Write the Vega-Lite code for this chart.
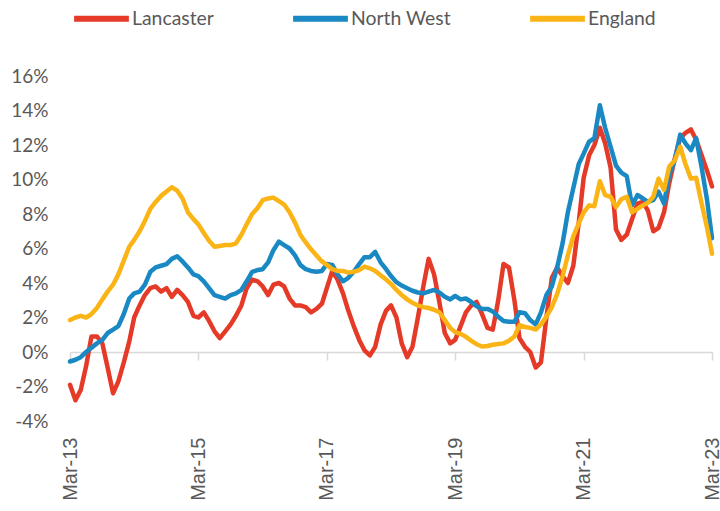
{
  "$schema": "https://vega.github.io/schema/vega-lite/v6.json",
  "width": 642,
  "height": 345,
  "autosize": {"type": "none"},
  "padding": {"left": 70, "top": 76, "right": 8, "bottom": 90},
  "background": "white",
  "config": {"view": {"stroke": null}},
  "data": {"values": [
    {"d":"2013-03-01","Lancaster":-1.9,"North West":-0.55,"England":1.85},
    {"d":"2013-04-01","Lancaster":-2.8,"North West":-0.45,"England":2.0},
    {"d":"2013-05-01","Lancaster":-2.2,"North West":-0.3,"England":2.1},
    {"d":"2013-06-01","Lancaster":-0.8,"North West":0.0,"England":2.0},
    {"d":"2013-07-01","Lancaster":0.9,"North West":0.25,"England":2.2},
    {"d":"2013-08-01","Lancaster":0.9,"North West":0.5,"England":2.55},
    {"d":"2013-09-01","Lancaster":0.5,"North West":0.7,"England":3.05},
    {"d":"2013-10-01","Lancaster":-0.9,"North West":1.1,"England":3.5},
    {"d":"2013-11-01","Lancaster":-2.4,"North West":1.3,"England":3.9},
    {"d":"2013-12-01","Lancaster":-1.7,"North West":1.5,"England":4.5},
    {"d":"2014-01-01","Lancaster":-0.6,"North West":2.2,"England":5.3},
    {"d":"2014-02-01","Lancaster":0.6,"North West":3.1,"England":6.1},
    {"d":"2014-03-01","Lancaster":2.0,"North West":3.4,"England":6.5},
    {"d":"2014-04-01","Lancaster":2.7,"North West":3.5,"England":7.0},
    {"d":"2014-05-01","Lancaster":3.3,"North West":3.9,"England":7.6},
    {"d":"2014-06-01","Lancaster":3.7,"North West":4.65,"England":8.3},
    {"d":"2014-07-01","Lancaster":3.8,"North West":4.9,"England":8.7},
    {"d":"2014-08-01","Lancaster":3.5,"North West":5.0,"England":9.05},
    {"d":"2014-09-01","Lancaster":3.7,"North West":5.1,"England":9.3},
    {"d":"2014-10-01","Lancaster":3.2,"North West":5.4,"England":9.55},
    {"d":"2014-11-01","Lancaster":3.6,"North West":5.55,"England":9.35},
    {"d":"2014-12-01","Lancaster":3.3,"North West":5.25,"England":8.9},
    {"d":"2015-01-01","Lancaster":2.9,"North West":4.9,"England":8.1},
    {"d":"2015-02-01","Lancaster":2.1,"North West":4.5,"England":7.7},
    {"d":"2015-03-01","Lancaster":2.0,"North West":4.4,"England":7.4},
    {"d":"2015-04-01","Lancaster":2.3,"North West":4.1,"England":6.9},
    {"d":"2015-05-01","Lancaster":1.8,"North West":3.7,"England":6.45},
    {"d":"2015-06-01","Lancaster":1.2,"North West":3.3,"England":6.1},
    {"d":"2015-07-01","Lancaster":0.8,"North West":3.2,"England":6.15},
    {"d":"2015-08-01","Lancaster":1.2,"North West":3.1,"England":6.2},
    {"d":"2015-09-01","Lancaster":1.6,"North West":3.3,"England":6.2},
    {"d":"2015-10-01","Lancaster":2.1,"North West":3.4,"England":6.3},
    {"d":"2015-11-01","Lancaster":2.7,"North West":3.6,"England":6.8},
    {"d":"2015-12-01","Lancaster":3.7,"North West":4.1,"England":7.4},
    {"d":"2016-01-01","Lancaster":4.2,"North West":4.65,"England":8.0},
    {"d":"2016-02-01","Lancaster":4.1,"North West":4.75,"England":8.35},
    {"d":"2016-03-01","Lancaster":3.8,"North West":4.8,"England":8.8},
    {"d":"2016-04-01","Lancaster":3.3,"North West":5.2,"England":8.9},
    {"d":"2016-05-01","Lancaster":3.9,"North West":5.9,"England":8.95},
    {"d":"2016-06-01","Lancaster":4.0,"North West":6.4,"England":8.75},
    {"d":"2016-07-01","Lancaster":3.8,"North West":6.2,"England":8.55},
    {"d":"2016-08-01","Lancaster":3.1,"North West":6.0,"England":8.1},
    {"d":"2016-09-01","Lancaster":2.7,"North West":5.6,"England":7.5},
    {"d":"2016-10-01","Lancaster":2.7,"North West":5.05,"England":6.8},
    {"d":"2016-11-01","Lancaster":2.6,"North West":4.8,"England":6.35},
    {"d":"2016-12-01","Lancaster":2.3,"North West":4.7,"England":5.95},
    {"d":"2017-01-01","Lancaster":2.5,"North West":4.65,"England":5.6},
    {"d":"2017-02-01","Lancaster":2.8,"North West":4.7,"England":5.25},
    {"d":"2017-03-01","Lancaster":3.7,"North West":5.1,"England":5.05},
    {"d":"2017-04-01","Lancaster":4.7,"North West":5.05,"England":4.8},
    {"d":"2017-05-01","Lancaster":4.2,"North West":4.5,"England":4.7},
    {"d":"2017-06-01","Lancaster":3.4,"North West":4.1,"England":4.7},
    {"d":"2017-07-01","Lancaster":2.4,"North West":4.3,"England":4.6},
    {"d":"2017-08-01","Lancaster":1.5,"North West":4.65,"England":4.65},
    {"d":"2017-09-01","Lancaster":0.7,"North West":5.1,"England":4.75},
    {"d":"2017-10-01","Lancaster":0.1,"North West":5.5,"England":4.95},
    {"d":"2017-11-01","Lancaster":-0.2,"North West":5.5,"England":4.85},
    {"d":"2017-12-01","Lancaster":0.3,"North West":5.8,"England":4.7},
    {"d":"2018-01-01","Lancaster":1.6,"North West":5.2,"England":4.45},
    {"d":"2018-02-01","Lancaster":2.4,"North West":4.8,"England":4.2},
    {"d":"2018-03-01","Lancaster":2.7,"North West":4.4,"England":3.95},
    {"d":"2018-04-01","Lancaster":2.0,"North West":4.05,"England":3.6},
    {"d":"2018-05-01","Lancaster":0.5,"North West":3.85,"England":3.3},
    {"d":"2018-06-01","Lancaster":-0.3,"North West":3.7,"England":3.05},
    {"d":"2018-07-01","Lancaster":0.3,"North West":3.55,"England":2.85},
    {"d":"2018-08-01","Lancaster":2.0,"North West":3.45,"England":2.7},
    {"d":"2018-09-01","Lancaster":3.8,"North West":3.4,"England":2.6},
    {"d":"2018-10-01","Lancaster":5.4,"North West":3.5,"England":2.55},
    {"d":"2018-11-01","Lancaster":4.5,"North West":3.6,"England":2.45},
    {"d":"2018-12-01","Lancaster":2.9,"North West":3.45,"England":2.3},
    {"d":"2019-01-01","Lancaster":1.1,"North West":3.2,"England":1.85},
    {"d":"2019-02-01","Lancaster":0.5,"North West":3.05,"England":1.4},
    {"d":"2019-03-01","Lancaster":0.7,"North West":3.25,"England":1.15},
    {"d":"2019-04-01","Lancaster":1.5,"North West":3.05,"England":1.05},
    {"d":"2019-05-01","Lancaster":2.3,"North West":3.1,"England":0.88},
    {"d":"2019-06-01","Lancaster":2.7,"North West":2.9,"England":0.65},
    {"d":"2019-07-01","Lancaster":2.9,"North West":2.65,"England":0.45},
    {"d":"2019-08-01","Lancaster":2.2,"North West":2.5,"England":0.32},
    {"d":"2019-09-01","Lancaster":1.4,"North West":2.5,"England":0.35},
    {"d":"2019-10-01","Lancaster":1.3,"North West":2.35,"England":0.42},
    {"d":"2019-11-01","Lancaster":3.0,"North West":2.05,"England":0.46},
    {"d":"2019-12-01","Lancaster":5.1,"North West":1.8,"England":0.5},
    {"d":"2020-01-01","Lancaster":4.9,"North West":1.75,"England":0.65},
    {"d":"2020-02-01","Lancaster":3.0,"North West":1.75,"England":0.9},
    {"d":"2020-03-01","Lancaster":0.8,"North West":2.3,"England":1.55},
    {"d":"2020-04-01","Lancaster":0.3,"North West":2.25,"England":1.45},
    {"d":"2020-05-01","Lancaster":0.0,"North West":1.85,"England":1.4},
    {"d":"2020-06-01","Lancaster":-0.9,"North West":1.6,"England":1.3},
    {"d":"2020-07-01","Lancaster":-0.6,"North West":2.3,"England":1.6},
    {"d":"2020-08-01","Lancaster":2.0,"North West":3.3,"England":2.05},
    {"d":"2020-09-01","Lancaster":4.3,"North West":3.8,"England":2.6},
    {"d":"2020-10-01","Lancaster":4.9,"North West":4.9,"England":3.35},
    {"d":"2020-11-01","Lancaster":4.4,"North West":6.3,"England":4.4},
    {"d":"2020-12-01","Lancaster":4.0,"North West":8.1,"England":5.6},
    {"d":"2021-01-01","Lancaster":5.0,"North West":9.5,"England":6.7},
    {"d":"2021-02-01","Lancaster":7.5,"North West":10.9,"England":7.45},
    {"d":"2021-03-01","Lancaster":10.1,"North West":11.5,"England":8.1},
    {"d":"2021-04-01","Lancaster":11.4,"North West":12.2,"England":8.5},
    {"d":"2021-05-01","Lancaster":12.0,"North West":12.4,"England":8.45},
    {"d":"2021-06-01","Lancaster":13.0,"North West":14.3,"England":9.9},
    {"d":"2021-07-01","Lancaster":12.1,"North West":13.0,"England":9.1},
    {"d":"2021-08-01","Lancaster":10.7,"North West":11.9,"England":9.0},
    {"d":"2021-09-01","Lancaster":7.1,"North West":10.8,"England":8.4},
    {"d":"2021-10-01","Lancaster":6.5,"North West":10.4,"England":8.85},
    {"d":"2021-11-01","Lancaster":6.8,"North West":10.2,"England":9.0},
    {"d":"2021-12-01","Lancaster":7.7,"North West":8.5,"England":8.1},
    {"d":"2022-01-01","Lancaster":8.6,"North West":9.1,"England":8.3},
    {"d":"2022-02-01","Lancaster":8.7,"North West":8.9,"England":8.5},
    {"d":"2022-03-01","Lancaster":8.2,"North West":8.7,"England":8.65},
    {"d":"2022-04-01","Lancaster":7.0,"North West":8.8,"England":9.0},
    {"d":"2022-05-01","Lancaster":7.2,"North West":9.3,"England":10.05},
    {"d":"2022-06-01","Lancaster":8.1,"North West":8.6,"England":9.4},
    {"d":"2022-07-01","Lancaster":9.8,"North West":10.3,"England":10.75},
    {"d":"2022-08-01","Lancaster":11.2,"North West":11.1,"England":11.1},
    {"d":"2022-09-01","Lancaster":12.4,"North West":12.6,"England":11.9},
    {"d":"2022-10-01","Lancaster":12.7,"North West":12.1,"England":10.9},
    {"d":"2022-11-01","Lancaster":12.9,"North West":11.7,"England":10.05},
    {"d":"2022-12-01","Lancaster":12.3,"North West":12.4,"England":10.1},
    {"d":"2023-01-01","Lancaster":11.4,"North West":10.7,"England":8.6},
    {"d":"2023-02-01","Lancaster":10.5,"North West":8.8,"England":7.2},
    {"d":"2023-03-01","Lancaster":9.6,"North West":6.6,"England":5.7}
  ]},
  "transform": [
    {"fold": ["Lancaster", "North West", "England"], "as": ["series", "value"]}
  ],
  "mark": {"type": "line", "strokeWidth": 4.5, "strokeJoin": "round", "strokeCap": "round"},
  "encoding": {
    "x": {
      "field": "d",
      "type": "temporal",
      "scale": {"type": "utc", "domain": [{"year": 2013, "month": 3, "date": 1, "utc": true}, {"year": 2023, "month": 3, "date": 1, "utc": true}]},
      "axis": {
        "title": null,
        "grid": false,
        "offset": -69,
        "values": [
          {"year": 2013, "month": 3, "date": 1, "utc": true},
          {"year": 2015, "month": 3, "date": 1, "utc": true},
          {"year": 2017, "month": 3, "date": 1, "utc": true},
          {"year": 2019, "month": 3, "date": 1, "utc": true},
          {"year": 2021, "month": 3, "date": 1, "utc": true},
          {"year": 2023, "month": 3, "date": 1, "utc": true}
        ],
        "labelExpr": "utcFormat(datum.value, '%b-%y')",
        "labelAngle": -90,
        "labelAlign": "right",
        "labelBaseline": "middle",
        "labelPadding": 77,
        "labelFont": "Liberation Sans",
        "labelFontSize": 20,
        "labelColor": "#595959",
        "labelOverlap": false,
        "labelFlush": false,
        "domainColor": "#d9d9d9",
        "domainWidth": 1.5,
        "tickColor": "#d9d9d9",
        "tickWidth": 1.5,
        "tickSize": 8
      }
    },
    "y": {
      "field": "value",
      "type": "quantitative",
      "scale": {"domain": [-4, 16], "nice": false, "zero": false},
      "axis": {
        "title": null,
        "grid": false,
        "domain": false,
        "ticks": false,
        "values": [-4, -2, 0, 2, 4, 6, 8, 10, 12, 14, 16],
        "labelExpr": "datum.value + '%'",
        "labelPadding": 22,
        "labelFont": "Lato",
        "labelFontSize": 19,
        "labelColor": "#595959"
      }
    },
    "color": {
      "field": "series",
      "type": "nominal",
      "scale": {"domain": ["Lancaster", "North West", "England"], "range": ["#E63A28", "#1A89C3", "#FBB415"]},
      "legend": {
        "title": null,
        "orient": "none",
        "direction": "horizontal",
        "legendX": 1,
        "legendY": -88,
        "symbolType": "stroke",
        "symbolSize": 3000,
        "symbolStrokeWidth": 6,
        "labelFont": "Lato",
        "labelFontSize": 19.4,
        "labelColor": "#595959",
        "labelOffset": 0,
        "columnPadding": 67,
        "padding": 0
      }
    }
  }
}
